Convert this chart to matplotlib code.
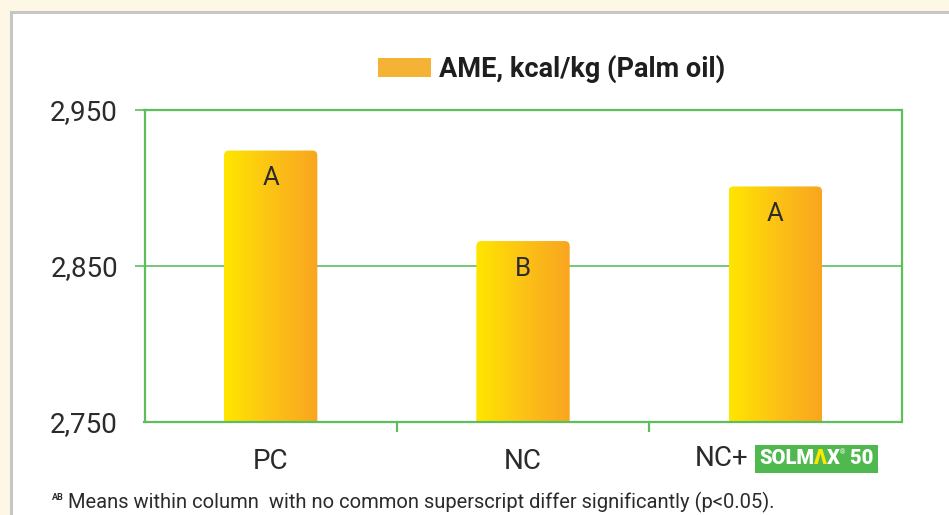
import matplotlib
matplotlib.use("Agg")
import matplotlib.pyplot as plt
import numpy as np
from matplotlib.patches import Rectangle, FancyBboxPatch, Patch
from matplotlib.colors import LinearSegmentedColormap
from matplotlib.offsetbox import TextArea, HPacker, AnnotationBbox
import matplotlib.transforms as mtransforms

# -------------------------
# Data
# -------------------------
categories = ["PC", "NC", "NC+"]
ame_values = [2924, 2866, 2901]
sig_letters = ["A", "B", "A"]
y_ticks = [2750, 2850, 2950]
series_name = "AME, kcal/kg (Palm oil)"
footnote = "Means within column  with no common superscript differ significantly (p<0.05)."

plt.rcParams["font.family"] = ["Roboto", "DejaVu Sans"]

GREEN = "#5cbf5c"
TXT = "#2b2b2b"

fig = plt.figure(figsize=(9.49, 5.15), dpi=100)
fig.patch.set_facecolor("#fdf7e6")

# white panel with grey border
W, H = 949, 515
fig.patches.append(Rectangle((11 / W, -0.1), 1.2, (H - 12) / H + 0.1, transform=fig.transFigure,
                             facecolor="white", edgecolor="#c6c6c6", linewidth=2.2, zorder=0))

ax = fig.add_axes([144.5 / W, 93 / H, 757 / W, 312 / H])
ax.set_zorder(2)
ax.set_facecolor("none")
ax.set_xlim(-0.5, 2.5)
ax.set_ylim(2750, 2950)

for s in ax.spines.values():
    s.set_color(GREEN)
    s.set_linewidth(1.6)

ax.set_yticks(y_ticks)
ax.set_yticklabels([f"{v:,}" for v in y_ticks])
ax.tick_params(axis="y", length=7, width=1.2, color=GREEN, labelsize=20, labelcolor=TXT, pad=12)
ax.yaxis.get_major_ticks()[0].tick1line.set_visible(False)
ax.grid(axis="y", color=GREEN, linewidth=1.2, zorder=0)
ax.set_axisbelow(True)

x = np.arange(len(categories))
ax.set_xticks(x)
ax.set_xticklabels(["PC", "NC", ""])
ax.set_xticks([0.5, 1.5], minor=True)
ax.tick_params(axis="x", which="major", length=0, labelsize=20, labelcolor=TXT, pad=19)
ax.tick_params(axis="x", which="minor", length=7, width=1.6, color=GREEN)

# gradient bars with rounded tops
cmap = LinearSegmentedColormap.from_list("yo", ["#ffe600", "#fcc315", "#f9a51f"])
grad = np.linspace(0, 1, 256).reshape(1, -1)
bar_w = 0.37
x_per_px = 3 / 757
y_per_px = 200 / 312
for xi, v, lab in zip(x, ame_values, sig_letters):
    x0 = xi - bar_w / 2
    patch = FancyBboxPatch((x0, 2700), bar_w, v - 2700,
                           boxstyle=f"round,pad=0,rounding_size={5 * x_per_px}",
                           mutation_aspect=y_per_px / x_per_px,
                           facecolor="none", edgecolor="none", transform=ax.transData)
    ax.add_patch(patch)
    im = ax.imshow(grad, cmap=cmap, aspect="auto", extent=[x0, x0 + bar_w, 2750, v],
                   zorder=2, interpolation="bicubic")
    im.set_clip_path(patch)
    ax.annotate(lab, (xi, v), xytext=(0, -20), textcoords="offset points",
                ha="center", va="center", fontsize=18.5, color=TXT, zorder=3)
ax.set_xlim(-0.5, 2.5)
ax.set_ylim(2750, 2950)

# third category label with logo
blend = mtransforms.blended_transform_factory(ax.transData, ax.transAxes)
ax.annotate(categories[2], (2, 0), xycoords=blend, xytext=(-19.5, -26.6), textcoords="offset points",
            ha="right", va="center", fontsize=20, color=TXT, annotation_clip=False)
lp = dict(color="white", fontsize=14.5, fontweight="heavy")
parts = [TextArea("SOLM", textprops=lp),
         TextArea("Λ", textprops=dict(lp, color="#ffe600")),
         TextArea("X", textprops=lp),
         TextArea("®", textprops=dict(color="white", fontsize=5)),
         TextArea(" 50", textprops=lp)]
logo = HPacker(children=parts, align="top", pad=0, sep=0)
ab = AnnotationBbox(logo, (2, 0), xycoords=blend, xybox=(29.5, -26.6), boxcoords="offset points",
                    frameon=True, pad=0.3, annotation_clip=False,
                    bboxprops=dict(facecolor="#4fb84f", edgecolor="none", boxstyle="square,pad=0.3"))
ax.add_artist(ab)

# legend
handle = Patch(facecolor="#f5b335", edgecolor="none")
leg = fig.legend([handle], [series_name], loc="center", bbox_to_anchor=(552 / W, 1 - 69 / H),
                 frameon=False, handlelength=1.95, handleheight=0.7, handletextpad=0.3,
                 prop=dict(weight="bold", size=19.5))
for t in leg.get_texts():
    t.set_color("#1e1e1e")

# footnote
fig.text(52 / W, 1 - 497 / H, "AB", fontsize=6.5, color=TXT, va="center", fontweight="bold")
fig.text(68 / W, 1 - 502 / H, footnote, fontsize=14.5, color=TXT, va="center")

fig.savefig("out.png", dpi=100, facecolor=fig.get_facecolor())
